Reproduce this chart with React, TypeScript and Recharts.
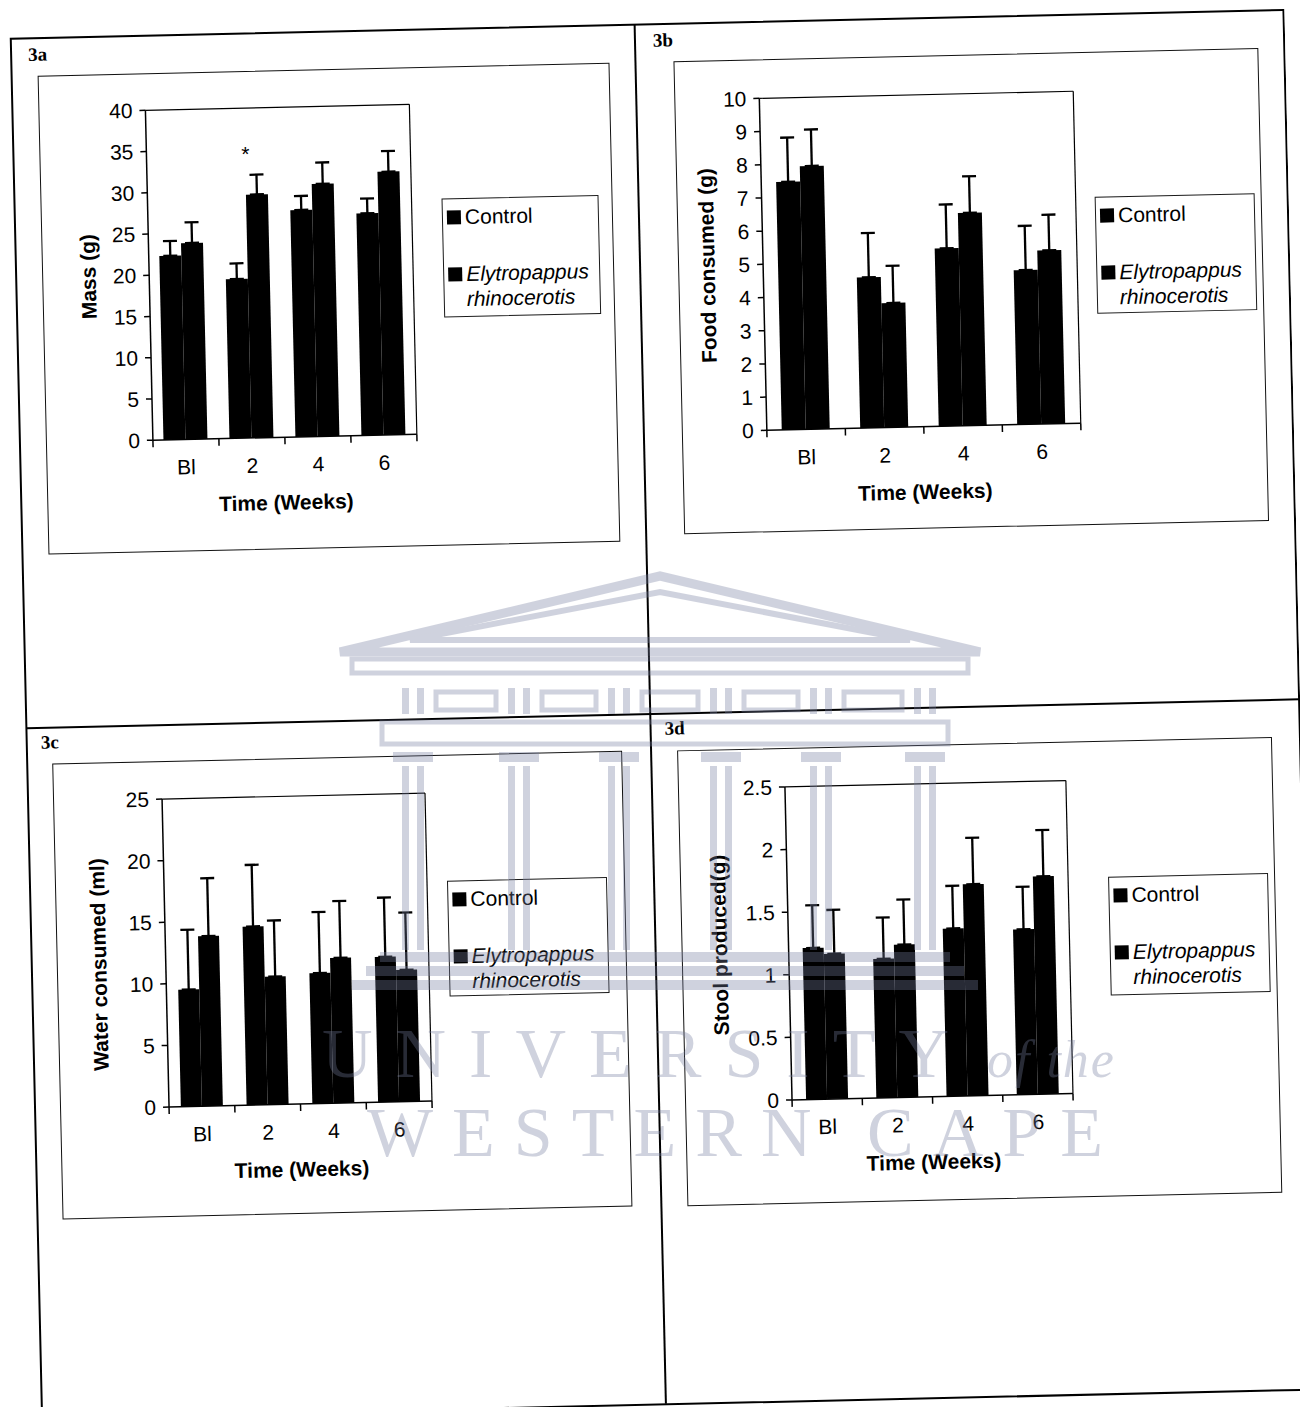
import React from "react";
import { BarChart, Bar, XAxis, YAxis, ErrorBar, Legend, Label, ReferenceDot, ReferenceLine } from "recharts";

const FONT = '"Liberation Sans", Arial, Helvetica, sans-serif';
const SERIF = '"Liberation Serif", "Times New Roman", serif';

const weeks = ["Bl", "2", "4", "6"];

// 3a body mass (g): mean and SEM per group
const massControl = [22.3, 19.3, 27.5, 26.9];
const massControlSem = [1.8, 1.9, 1.7, 1.8];
const massExtract = [23.8, 29.5, 30.6, 31.9];
const massExtractSem = [2.5, 2.4, 2.6, 2.5];
const massTicks = [0, 5, 10, 15, 20, 25, 30, 35, 40];
const massStarWeek = "2";
const massStarAt = 35.0;

// 3b food consumed (g)
const foodControl = [7.47, 4.54, 5.36, 4.65];
const foodControlSem = [1.33, 1.33, 1.32, 1.33];
const foodExtract = [7.93, 3.75, 6.41, 5.23];
const foodExtractSem = [1.1, 1.12, 1.1, 1.07];
const foodTicks = [0, 1, 2, 3, 4, 5, 6, 7, 8, 9, 10];

// 3c water consumed (ml)
const waterControl = [9.5, 14.5, 10.6, 11.8];
const waterControlSem = [4.85, 5.0, 4.95, 4.8];
const waterExtract = [13.8, 10.4, 11.8, 10.7];
const waterExtractSem = [4.7, 4.55, 4.6, 4.65];
const waterTicks = [0, 5, 10, 15, 20, 25];

// 3d stool produced (g)
const stoolControl = [1.21, 1.11, 1.34, 1.32];
const stoolControlSem = [0.34, 0.33, 0.34, 0.34];
const stoolExtract = [1.16, 1.22, 1.69, 1.74];
const stoolExtractSem = [0.35, 0.36, 0.37, 0.37];
const stoolTicks = [0, 0.5, 1, 1.5, 2, 2.5];

type Row = { week: string; control: number; controlSem: number; extract: number; extractSem: number };

const toRows = (control: number[], controlSem: number[], extract: number[], extractSem: number[]): Row[] =>
  weeks.map((week, i) => ({
    week,
    control: control[i],
    controlSem: controlSem[i],
    extract: extract[i],
    extractSem: extractSem[i],
  }));

const axisStroke = { stroke: "#000", strokeWidth: 1.5 };
const tickStyle = { fill: "#000", fontSize: 21, fontFamily: FONT };
const Y_W = 60;
const X_H = 80;
const TICK_PX = 7;

type PanelSpec = {
  name: string;
  box: { x: number; y: number; w: number; h: number };
  plot: { x: number; y: number; r: number; b: number };
  rows: Row[];
  ticks: number[];
  title: string;
  titleGap: number;
  titleShift: number;
  legend: { x: number; y: number; w: number; h: number };
  gap: string;
  star?: { week: string; at: number };
};

const panels: PanelSpec[] = [
  {
    name: "3a",
    box: { x: 52, y: 62, w: 572, h: 479 },
    plot: { x: 159, y: 99, r: 423, b: 429 },
    rows: toRows(massControl, massControlSem, massExtract, massExtractSem),
    ticks: massTicks,
    title: "Mass (g)",
    titleGap: 61,
    titleShift: 0,
    legend: { x: 400, y: 131, w: 157, h: 119 },
    gap: "16%",
    star: { week: massStarWeek, at: massStarAt },
  },
  {
    name: "3b",
    box: { x: 688, y: 62, w: 585, h: 473 },
    plot: { x: 773, y: 101, r: 1087, b: 433 },
    rows: toRows(foodControl, foodControlSem, foodExtract, foodExtractSem),
    ticks: foodTicks,
    title: "Food consumed (g)",
    titleGap: 56,
    titleShift: 0,
    legend: { x: 417, y: 144, w: 160, h: 117 },
    gap: "19%",
  },
  {
    name: "3c",
    box: { x: 51, y: 750, w: 570, h: 456 },
    plot: { x: 160, y: 788, r: 423, b: 1096 },
    rows: toRows(waterControl, waterControlSem, waterExtract, waterExtractSem),
    ticks: waterTicks,
    title: "Water consumed (ml)",
    titleGap: 67,
    titleShift: 10,
    legend: { x: 391, y: 125, w: 160, h: 116 },
    gap: "18%",
  },
  {
    name: "3d",
    box: { x: 676, y: 751, w: 595, h: 456 },
    plot: { x: 783, y: 790, r: 1064, b: 1103 },
    rows: toRows(stoolControl, stoolControlSem, stoolExtract, stoolExtractSem),
    ticks: stoolTicks,
    title: "Stool produced(g)",
    titleGap: 69,
    titleShift: 0,
    legend: { x: 427, y: 135, w: 160, h: 119 },
    gap: "20%",
  },
];

const renderLegend = (props: any) => {
  const items = props.payload ?? [];
  return (
    <div
      style={{
        width: "100%",
        height: "100%",
        boxSizing: "border-box",
        border: "1px solid #1a1a1a",
        background: "#fff",
        padding: "5px 3px 0 4px",
        fontFamily: FONT,
        fontSize: 21,
        lineHeight: "25px",
        color: "#000",
        textAlign: "left",
      }}
    >
      {items.map((item: any, i: number) => (
        <div key={i} style={{ display: "flex", alignItems: "flex-start", marginBottom: i === 0 ? 32 : 0 }}>
          <span style={{ flex: "none", width: 14, height: 14, marginTop: 6, marginRight: 4, background: item.color }} />
          <span style={{ fontStyle: item.dataKey === "extract" ? "italic" : "normal" }}>{item.value}</span>
        </div>
      ))}
    </div>
  );
};

const yTitle = (text: string, gap: number, shift: number) => (props: any) => {
  const vb = props.viewBox ?? {};
  const cx = (vb.x ?? 0) + (vb.width ?? 0) - gap;
  const cy = (vb.y ?? 0) + (vb.height ?? 0) / 2 + shift;
  return (
    <text
      x={cx}
      y={cy}
      transform={`rotate(-90 ${cx} ${cy})`}
      textAnchor="middle"
      dominantBaseline="central"
      fontFamily={FONT}
      fontSize={21}
      fontWeight="bold"
      fill="#000"
    >
      {text}
    </text>
  );
};

const xTitle = (props: any) => {
  const vb = props.viewBox ?? {};
  const cx = (vb.x ?? 0) + (vb.width ?? 0) / 2;
  const cy = (vb.y ?? 0) + 65;
  return (
    <text x={cx} y={cy} textAnchor="middle" dominantBaseline="central" fontFamily={FONT} fontSize={21} fontWeight="bold" fill="#000">
      Time (Weeks)
    </text>
  );
};

const starMark = (props: any) => {
  const vb = props.viewBox ?? {};
  const cx = (vb.x ?? 0) + (vb.width ?? 0) / 2;
  const cy = (vb.y ?? 0) + (vb.height ?? 0) / 2;
  return (
    <text x={cx} y={cy + 12} textAnchor="middle" fontFamily={FONT} fontSize={21} fill="#000">
      *
    </text>
  );
};

function Panel({ spec }: { spec: PanelSpec }) {
  const { box, plot } = spec;
  const cw = box.w - 2;
  const ch = box.h - 2;
  const margin = {
    left: plot.x - box.x - 1 - Y_W,
    top: plot.y - box.y - 1 - 1,
    right: box.x + box.w - 1 - plot.r - 1,
    bottom: box.y + box.h - 1 - plot.b - X_H,
  };
  const domainMax = spec.ticks[spec.ticks.length - 1];
  // category boundary ticks hang below the baseline, expressed in data units
  const tickDepth = (domainMax * TICK_PX) / (plot.b - plot.y);
  const edges = [
    ...weeks.map((w) => ({ week: w, position: "start" as const })),
    { week: weeks[weeks.length - 1], position: "end" as const },
  ];
  return (
    <div
      style={{
        position: "absolute",
        left: box.x,
        top: box.y,
        width: box.w,
        height: box.h,
        border: "1.5px solid #111",
        boxSizing: "border-box",
        background: "#fff",
      }}
    >
      <BarChart width={cw} height={ch} data={spec.rows} margin={margin} barGap={0} barCategoryGap={spec.gap}>
        <XAxis
          xAxisId="cat"
          dataKey="week"
          height={X_H}
          axisLine={axisStroke}
          tickLine={false}
          tickSize={0}
          tickMargin={20}
          interval={0}
          tick={tickStyle}
        >
          <Label content={xTitle} />
        </XAxis>
        <XAxis
          xAxisId="frame"
          orientation="top"
          type="number"
          domain={[0, 1]}
          height={1}
          tick={false}
          tickLine={false}
          axisLine={{ stroke: "#000", strokeWidth: 1.2 }}
        />
        <YAxis
          type="number"
          domain={[0, domainMax]}
          ticks={spec.ticks}
          interval={0}
          width={Y_W}
          tickSize={6}
          tickMargin={7}
          axisLine={axisStroke}
          tickLine={axisStroke}
          tick={tickStyle}
        >
          <Label content={yTitle(spec.title, spec.titleGap, spec.titleShift)} />
        </YAxis>
        <YAxis
          yAxisId="frame"
          orientation="right"
          type="number"
          domain={[0, 1]}
          width={1}
          tick={false}
          tickLine={false}
          axisLine={{ stroke: "#000", strokeWidth: 1.2 }}
        />
        <Legend
          layout="horizontal"
          align="center"
          verticalAlign="middle"
          wrapperStyle={{ left: spec.legend.x, top: spec.legend.y, width: spec.legend.w, height: spec.legend.h }}
          content={renderLegend}
        />
        <Bar xAxisId="cat" dataKey="control" name="Control" fill="#000" isAnimationActive={false}>
          <ErrorBar dataKey={(r: Row) => [0, r.controlSem]} direction="y" width={7} strokeWidth={2.3} stroke="#000" />
        </Bar>
        <Bar xAxisId="cat" dataKey="extract" name="Elytropappus rhinocerotis" fill="#000" isAnimationActive={false}>
          <ErrorBar dataKey={(r: Row) => [0, r.extractSem]} direction="y" width={7} strokeWidth={2.3} stroke="#000" />
        </Bar>
        {edges.map((e, i) => (
          <ReferenceLine
            key={i}
            xAxisId="cat"
            segment={[
              { x: e.week, y: 0 },
              { x: e.week, y: -tickDepth },
            ]}
            position={e.position}
            ifOverflow="visible"
            stroke="#000"
            strokeWidth={1.5}
          />
        ))}
        {spec.star ? (
          <ReferenceDot xAxisId="cat" x={spec.star.week} y={spec.star.at} r={1} fill="none" stroke="none">
            <Label content={starMark} />
          </ReferenceDot>
        ) : null}
      </BarChart>
    </div>
  );
}

// faint crest stamped over the scanned page
function Crest() {
  const ink = "#767e9f";
  const pairs = [402, 508, 608, 710, 810, 914];
  return (
    <svg width={1300} height={1407} style={{ position: "absolute", left: 0, top: 0, pointerEvents: "none" }}>
      <g opacity={0.34}>
        <g fill="none" stroke={ink}>
          <polygon points="340,652 660,576 980,652" strokeWidth={9} />
          <polygon points="410,640 660,592 910,640" strokeWidth={6} />
          <rect x={352} y={659} width={616} height={14} strokeWidth={5} />
          <rect x={382} y={722} width={566} height={22} strokeWidth={5} />
          {pairs.slice(0, -1).map((x, i) => (
            <rect key={i} x={x + 34} y={692} width={pairs[i + 1] - x - 46} height={18} strokeWidth={5} />
          ))}
        </g>
        <g fill={ink}>
          {pairs.map((x) => (
            <g key={x}>
              <rect x={x} y={688} width={7} height={26} />
              <rect x={x + 15} y={688} width={7} height={26} />
              <rect x={x - 9} y={752} width={40} height={10} />
              <rect x={x} y={766} width={7} height={184} />
              <rect x={x + 15} y={766} width={7} height={184} />
            </g>
          ))}
          <rect x={380} y={952} width={570} height={10} />
          <rect x={366} y={966} width={598} height={10} />
          <rect x={352} y={980} width={626} height={10} />
        </g>
        <text x={322} y={1077} fill={ink} fontFamily={SERIF} fontSize={70} letterSpacing={23}>
          UNIVERSITY
          <tspan fontStyle="italic" fontSize={52} letterSpacing={2}> of the</tspan>
        </text>
        <text x={367} y={1156} fill={ink} fontFamily={SERIF} fontSize={70} letterSpacing={19}>
          WESTERN CAPE
        </text>
      </g>
    </svg>
  );
}

export default function App() {
  return (
    <div style={{ position: "absolute", left: 0, top: 0, width: 1300, height: 1407, overflow: "hidden", background: "#fff" }}>
      <div
        style={{
          position: "absolute",
          left: 0,
          top: 0,
          width: 1300,
          height: 1407,
          transform: "rotate(-1.3deg)",
          transformOrigin: "650px 703px",
        }}
      >
        <svg width={1300} height={1407} style={{ position: "absolute", left: 0, top: 0 }}>
          <g stroke="#000" strokeWidth={2} fill="none">
            <rect x={26} y={24.5} width={1273} height={1380} />
            <line x1={650} y1={24.5} x2={650} y2={1404} />
            <line x1={26} y1={714} x2={1299} y2={714} />
          </g>
          <g fontFamily={SERIF} fontWeight="bold" fontSize={19} fill="#000">
            <text x={43} y={47}>3a</text>
            <text x={668} y={47}>3b</text>
            <text x={40} y={735}>3c</text>
            <text x={664} y={735}>3d</text>
          </g>
        </svg>
        {panels.map((p) => (
          <Panel key={p.name} spec={p} />
        ))}
      </div>
      <Crest />
    </div>
  );
}
